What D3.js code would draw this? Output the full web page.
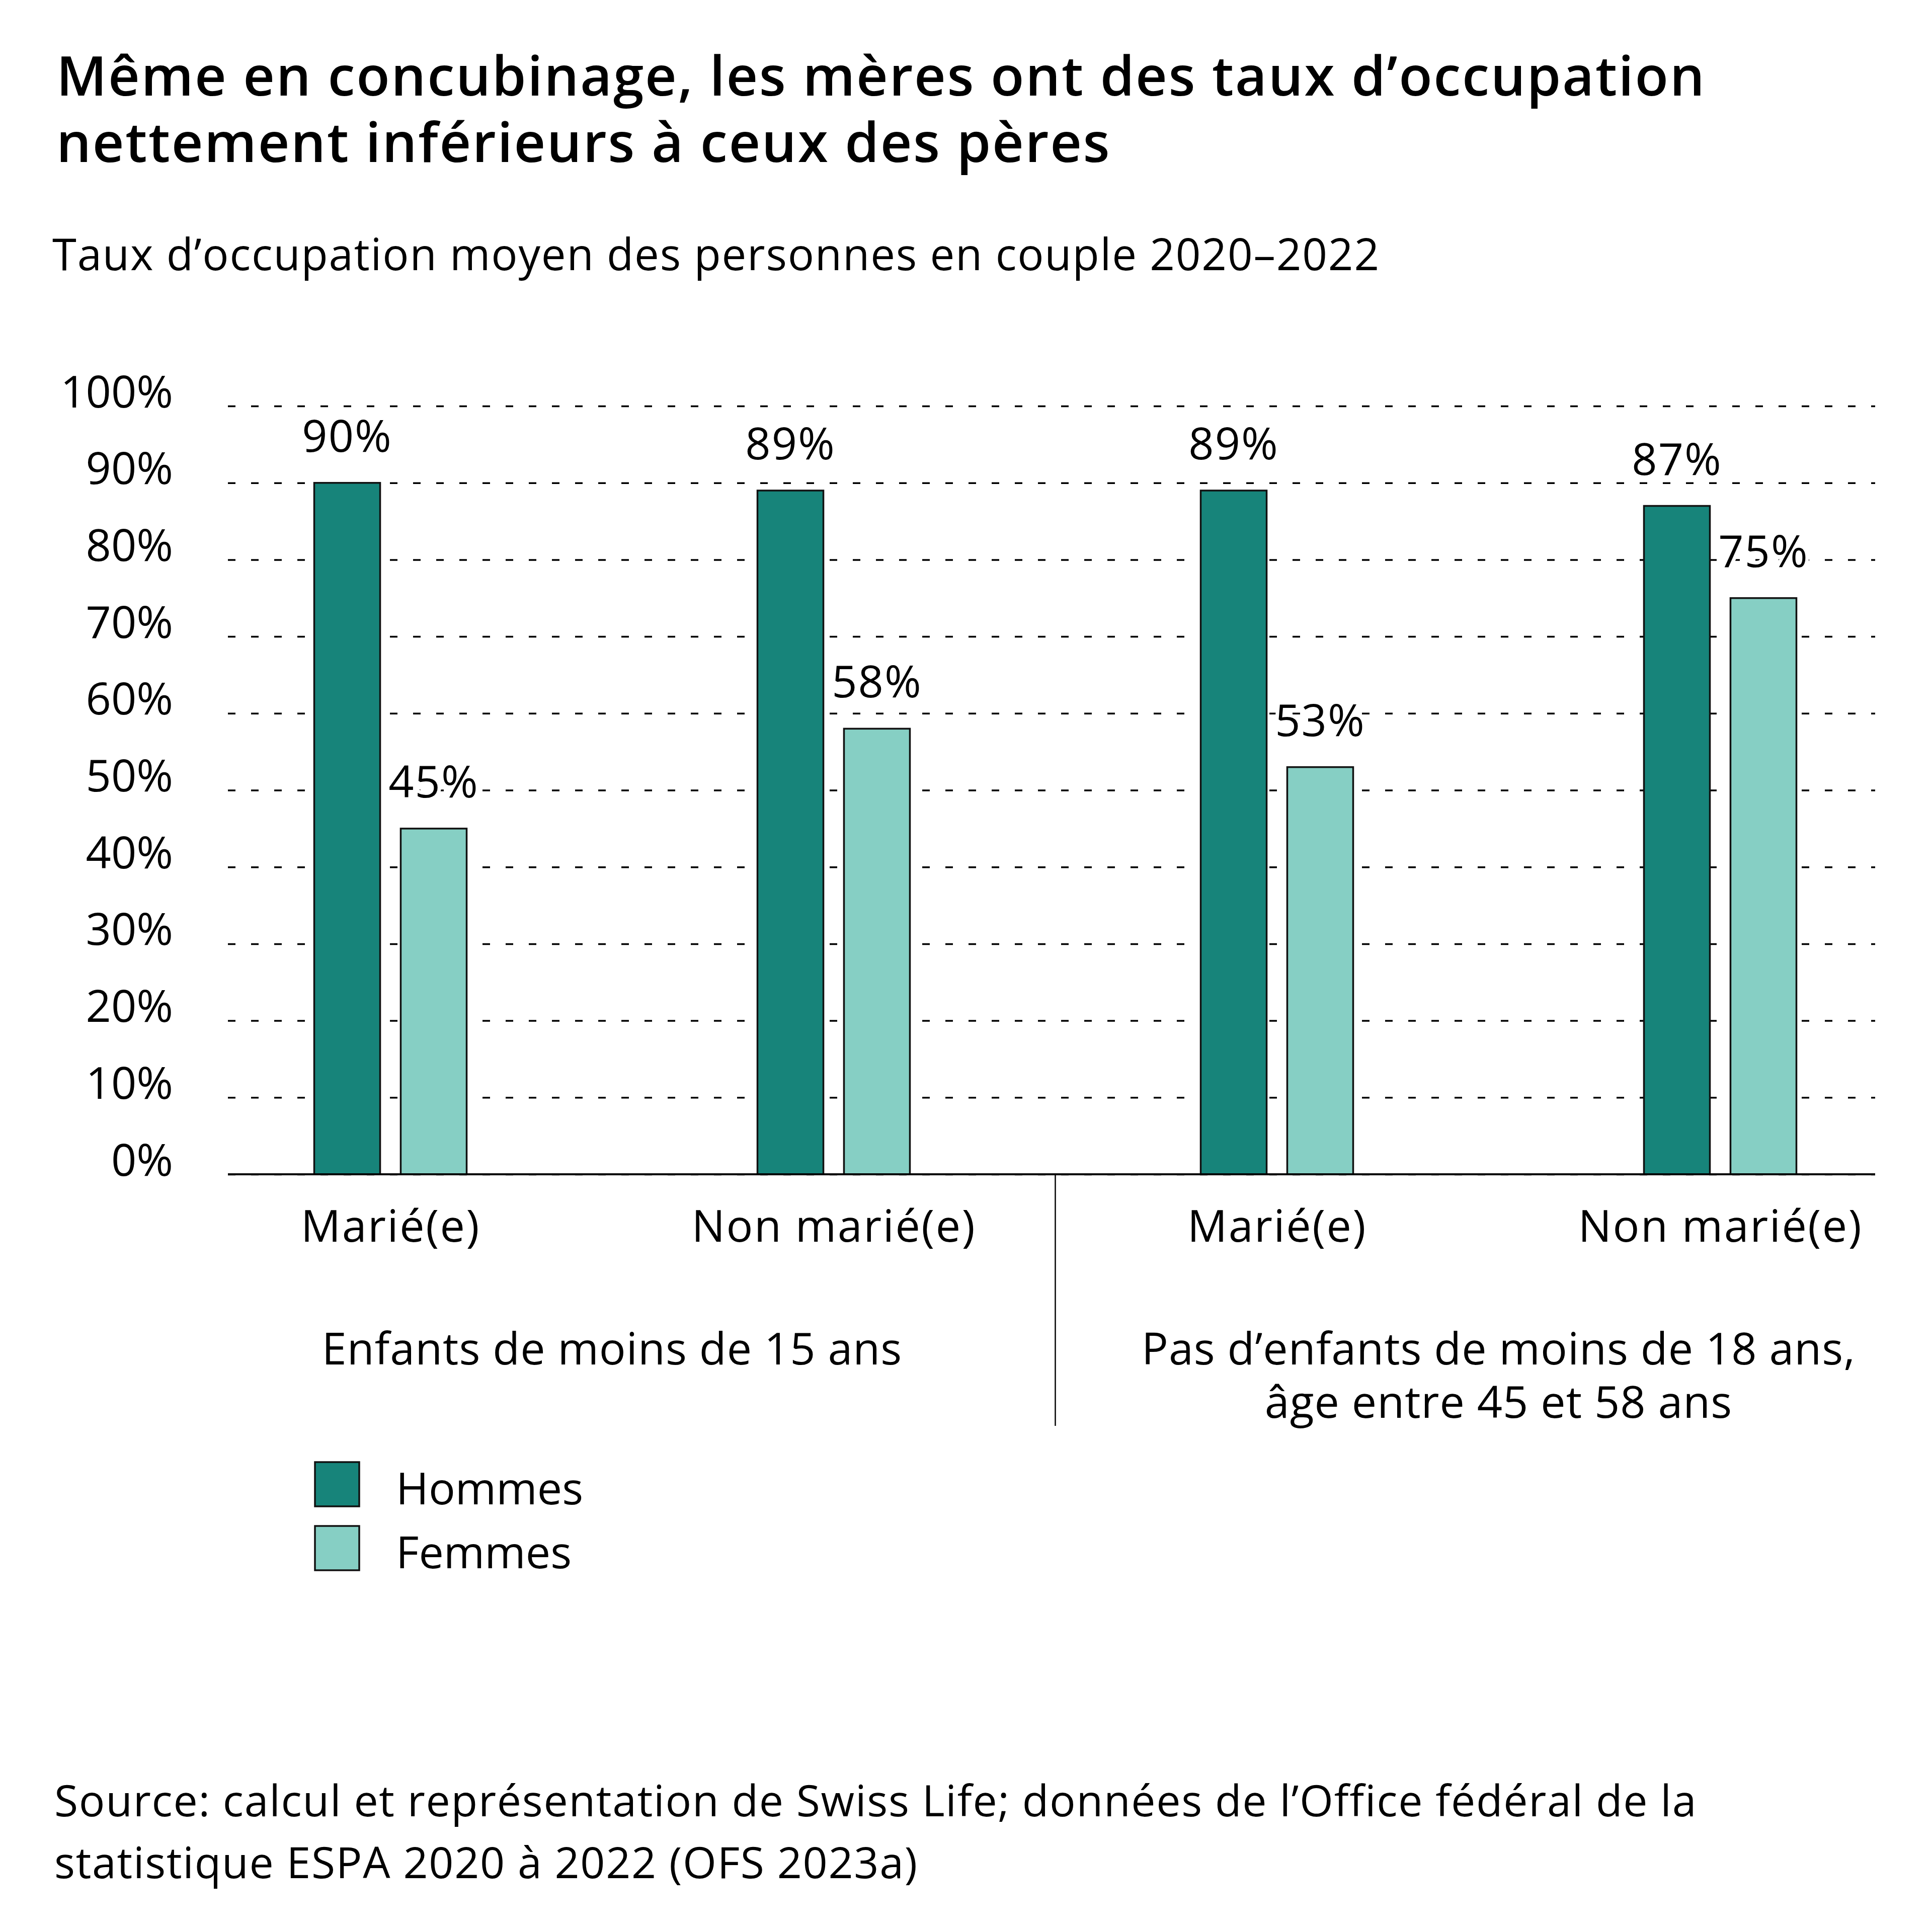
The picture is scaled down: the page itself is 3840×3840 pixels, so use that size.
<!DOCTYPE html>
<html>
<head>
<meta charset="utf-8">
<script src="https://cdn.jsdelivr.net/npm/d3@7"></script>
<style>
  body { margin: 0; background: #fff; }
  svg text { font-family: "Open Sans", "Noto Sans", sans-serif; fill: #000; }
</style>
</head>
<body>
<svg id="chart" width="3840" height="3840"></svg>
<script>
// data
var groups = ["g1m", "g1n", "g2m", "g2n"];
var groupLabels = ["Marié(e)", "Non marié(e)", "Marié(e)", "Non marié(e)"];
var series = ["Hommes", "Femmes"];
var hommes = [90, 89, 89, 87];
var femmes = [45, 58, 53, 75];
var yTicks = [0, 10, 20, 30, 40, 50, 60, 70, 80, 90, 100];
var sectionLabels = [
    ["Enfants de moins de 15 ans"],
    ["Pas d\u2019enfants de moins de 18 ans,", "âge entre 45 et 58 ans"]
];
var colors = ["#17847a", "#86cfc4"];

var svg = d3.select("svg#chart");

let plotLeft = 453, plotRight = 3727;
let plotTop = 807, plotBottom = 2334;

let y = d3.scaleLinear()
    .domain([0, 100])
    .range([plotBottom, plotTop]);

// group centres
let x0 = d3.scalePoint()
    .domain(groups)
    .range([776, 3419]);

// bars inside a group
let x1 = d3.scaleBand()
    .domain(series)
    .range([-151.5, 151.5])
    .paddingInner(0.238);

// title + subtitle
let title = svg.append("text")
    .attr("x", 112)
    .attr("y", 190)
    .style("font-size", "109px")
    .style("font-weight", 600)
    .style("letter-spacing", "2.6px");
title.append("tspan").attr("x", 112).text("Même en concubinage, les mères ont des taux d\u2019occupation");
title.append("tspan").attr("x", 112).attr("dy", 132).text("nettement inférieurs à ceux des pères");

svg.append("text")
    .attr("x", 104)
    .attr("y", 537)
    .style("font-size", "87px")
    .style("letter-spacing", "1.8px")
    .text("Taux d\u2019occupation moyen des personnes en couple 2020\u20132022");

// gridlines + y labels
let yAxis = d3.axisLeft(y)
    .tickValues(yTicks)
    .tickFormat(d => d + "%")
    .tickSize(-(plotRight - plotLeft))
    .tickPadding(109);

let yGroup = svg.append("g")
    .attr("id", "y-axis")
    .attr("transform", "translate(" + plotLeft + ",0)")
    .call(yAxis);

yGroup.select(".domain").remove();
yGroup.selectAll(".tick line")
    .attr("stroke", "#000")
    .attr("stroke-width", 3.5)
    .attr("stroke-dasharray", "15,31");
yGroup.selectAll(".tick text")
    .attr("dy", "0")
    .attr("y", 2)
    .style("font-size", "88px")
    .style("font-family", "'Open Sans', sans-serif")
    .attr("fill", "#000");

// bars
let plot = svg.append("g").attr("id", "plot");

let rows = groups.map((g, i) => ({group: g, values: [hommes[i], femmes[i]]}));

let groupG = plot.selectAll("g.group")
    .data(rows)
    .enter().append("g")
    .attr("class", "group")
    .attr("transform", d => "translate(" + x0(d.group) + ",0)");

groupG.selectAll("rect")
    .data(d => d.values.map((v, j) => ({key: series[j], value: v})))
    .enter().append("rect")
    .attr("x", d => x1(d.key))
    .attr("y", d => y(d.value))
    .attr("width", x1.bandwidth())
    .attr("height", d => y(0) - y(d.value))
    .attr("fill", (d, j) => colors[j])
    .attr("stroke", "#111")
    .attr("stroke-width", 3.5);

// value labels, white halo hides the gridline behind them
groupG.selectAll("text.value")
    .data(d => d.values.map((v, j) => ({key: series[j], value: v})))
    .enter().append("text")
    .attr("class", "value")
    .attr("x", d => x1(d.key) + x1.bandwidth() / 2)
    .attr("y", d => y(d.value) - 62)
    .style("text-anchor", "middle")
    .style("font-size", "88px")
    .style("letter-spacing", "2px")
    .style("stroke", "#fff")
    .style("stroke-width", "14px")
    .style("paint-order", "stroke")
    .text(d => d.value + "%");

// baseline
svg.append("line")
    .attr("x1", plotLeft)
    .attr("x2", plotRight)
    .attr("y1", y(0))
    .attr("y2", y(0))
    .attr("stroke", "#000")
    .attr("stroke-width", 4);

// x labels
let xAxis = d3.axisBottom(x0)
    .tickSize(0)
    .tickPadding(134)
    .tickFormat((d, i) => groupLabels[i]);

let xGroup = svg.append("g")
    .attr("id", "x-axis")
    .attr("transform", "translate(0," + y(0) + ")")
    .call(xAxis);
xGroup.select(".domain").remove();
xGroup.selectAll(".tick text")
    .attr("dy", "0")
    .style("font-size", "88px")
    .style("letter-spacing", "2.5px")
    .style("font-family", "'Open Sans', sans-serif")
    .attr("fill", "#000");

// divider between the two sections
let divX = (x0(groups[1]) + x0(groups[2])) / 2;
svg.append("line")
    .attr("x1", divX)
    .attr("x2", divX)
    .attr("y1", y(0))
    .attr("y2", 2834)
    .attr("stroke", "#000")
    .attr("stroke-width", 2.5);

// section labels
sectionLabels.forEach(function (lines, i) {
    let cx = (x0(groups[i * 2]) + x0(groups[i * 2 + 1])) / 2;
    let t = svg.append("text")
        .attr("x", cx)
        .attr("y", 2712)
        .style("text-anchor", "middle")
        .style("font-size", "88px")
        .style("letter-spacing", "1px");
    lines.forEach(function (l, k) {
        t.append("tspan").attr("x", cx).attr("dy", k === 0 ? 0 : 106).text(l);
    });
});

// legend
let legend = svg.append("g").attr("id", "legend");
series.forEach(function (s, i) {
    let ly = 2906 + i * 127;
    legend.append("rect")
        .attr("x", 626)
        .attr("y", ly)
        .attr("width", 88)
        .attr("height", 88)
        .attr("fill", colors[i])
        .attr("stroke", "#111")
        .attr("stroke-width", 3.5);
    legend.append("text")
        .attr("x", 787)
        .attr("y", ly + 84)
        .style("font-size", "88px")
        .text(s);
});

// source
let source = svg.append("text")
    .attr("x", 108)
    .attr("y", 3610)
    .style("font-size", "86px")
    .style("letter-spacing", "1.7px");
source.append("tspan").attr("x", 108).text("Source: calcul et représentation de Swiss Life; données de l\u2019Office fédéral de la");
source.append("tspan").attr("x", 108).attr("dy", 123).text("statistique ESPA 2020 à 2022 (OFS 2023a)");
</script>
</body>
</html>
